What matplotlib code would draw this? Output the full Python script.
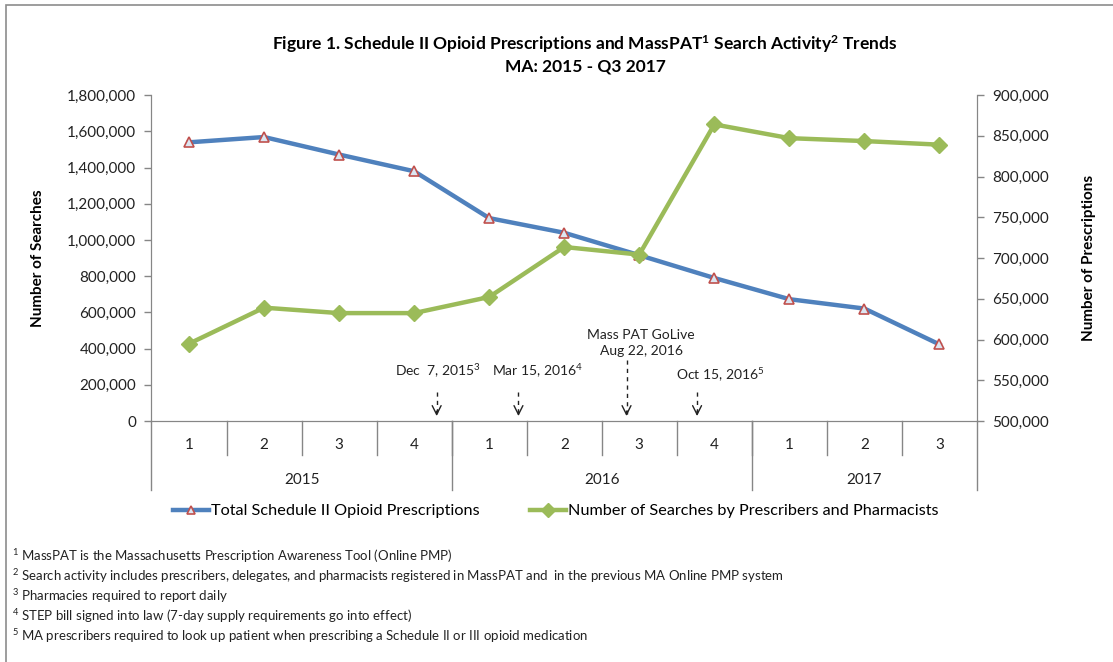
import numpy as np
import matplotlib.pyplot as plt
from matplotlib.patches import Rectangle

plt.rcParams['font.family'] = ['Lato', 'DejaVu Sans']
plt.rcParams['mathtext.fontset'] = 'custom'
plt.rcParams['mathtext.rm'] = 'Lato'
plt.rcParams['mathtext.it'] = 'Lato'
plt.rcParams['mathtext.bf'] = 'Lato:bold'

quarters = ['1', '2', '3', '4', '1', '2', '3', '4', '1', '2', '3']
years = ['2015', '2016', '2017']
year_sizes = [4, 4, 3]

# Total Schedule II opioid prescriptions (right axis)
prescriptions = [842000, 848500, 827000, 806500, 749000, 731000,
                 703500, 675500, 649500, 638000, 594000]
# Searches by prescribers and pharmacists (left axis)
searches = [427000, 626000, 596000, 596000, 685000, 961000,
            919000, 1638000, 1562000, 1546000, 1526000]

events = ['Dec  7, 2015$^{3}$', 'Mar 15, 2016$^{4}$',
          'Mass PAT GoLive\nAug 22, 2016', 'Oct 15, 2016$^{5}$']
event_pos = [3.30, 4.39, 5.83, 6.77]

footnotes = [
    '$^{1}$ MassPAT is the Massachusetts Prescription Awareness Tool (Online PMP)',
    '$^{2}$ Search activity includes prescribers, delegates, and pharmacists registered in MassPAT and  in the previous MA Online PMP system',
    '$^{3}$ Pharmacies required to report daily',
    '$^{4}$ STEP bill signed into law (7-day supply requirements go into effect)',
    '$^{5}$ MA prescribers required to look up patient when prescribing a Schedule II or III opioid medication',
]

blue = '#4F81BD'
green = '#9BBB59'
gray = '#868686'

fig = plt.figure(figsize=(11.13, 6.62), dpi=100)
ax = fig.add_axes([0.1361, 0.3640, 0.7417, 0.4924])
ax2 = ax.twinx()
ax.set_zorder(ax2.get_zorder() + 1)
ax.patch.set_visible(False)

x = np.arange(len(quarters))
l1, = ax2.plot(x, prescriptions, color=blue, lw=3.2, marker='^', ms=7,
               mfc='#DCE6F2', mec='#C0504D', mew=1.2, zorder=3)
l2, = ax.plot(x, searches, color=green, lw=3.2, marker='D', ms=8.5,
              mfc=green, mec=green, zorder=3)

ax.set_xlim(-0.5, len(quarters) - 0.5)
ax.set_ylim(0, 1800000)
ax2.set_ylim(500000, 900000)
ax.set_yticks(np.arange(0, 1800001, 200000))
ax2.set_yticks(np.arange(500000, 900001, 50000))
ax.yaxis.set_major_formatter(plt.FuncFormatter(lambda v, p: f'{int(v):,}'))
ax2.yaxis.set_major_formatter(plt.FuncFormatter(lambda v, p: f'{int(v):,}'))

for a in (ax, ax2):
    for s in a.spines.values():
        s.set_color(gray)
    a.spines['top'].set_visible(False)
    a.tick_params(axis='y', colors=gray, labelcolor='#222222', labelsize=11,
                  length=5, width=1, pad=6)
ax.set_xticks([])
ax2.set_xticks([])

ax.set_ylabel('Number of Searches', fontsize=11, fontweight='bold', labelpad=16)
ax2.set_ylabel('Number of Prescriptions', fontsize=11, fontweight='bold', labelpad=24)

# category axis: quarters and years
tr = ax.get_xaxis_transform()
for i, q in enumerate(quarters):
    ax.text(i, -0.074, q, transform=tr, ha='center', va='center', fontsize=11, color='#222222')
for b in np.arange(0.5, len(quarters) - 1, 1):
    ax.plot([b, b], [0, -0.104], transform=tr, color=gray, lw=1, clip_on=False)
edges = np.concatenate([[-0.5], np.cumsum(year_sizes) - 0.5])
for e in edges:
    ax.plot([e, e], [0, -0.212], transform=tr, color=gray, lw=1, clip_on=False)
for k, yr in enumerate(years):
    ax.text((edges[k] + edges[k + 1]) / 2, -0.181, yr, transform=tr,
            ha='center', va='center', fontsize=11, color='#222222')

# event markers
for lab, p in zip(events, event_pos):
    top = 335000 if '\n' in lab else 160000
    ax.plot([p, p], [top, 40000], color='#222222', lw=1, ls=(0, (3, 3)))
    ax.annotate('', xy=(p, 12000), xytext=(p, 70000),
                arrowprops=dict(arrowstyle='->', color='#222222', lw=1,
                                mutation_scale=16))
tx = [438, 537, 641, 720]
ty = [371, 371, 343, 375]
for lab, px, py in zip(events, tx, ty):
    fig.text(px / 1113, 1 - py / 662, lab, ha='center', va='center',
             fontsize=10, color='#222222', linespacing=1.4)

fig.text(585 / 1113, 1 - 44 / 662,
         r'Figure 1. Schedule II Opioid Prescriptions and MassPAT$^{\mathbf{1}}$ Search Activity$^{\mathbf{2}}$ Trends',
         ha='center', va='center', fontsize=12.5, fontweight='bold')
fig.text(585 / 1113, 1 - 67 / 662, 'MA: 2015 - Q3 2017',
         ha='center', va='center', fontsize=12.5, fontweight='bold')

fig.legend([l1, l2], ['Total Schedule II Opioid Prescriptions',
                      'Number of Searches by Prescribers and Pharmacists'],
           loc='center', bbox_to_anchor=(0.4996, 1 - 511 / 662), ncol=2,
           frameon=False, fontsize=11.7, handlelength=2.2, columnspacing=3.1,
           handletextpad=0.15, markerscale=0.8)

for k, t in enumerate(footnotes):
    fig.text(12 / 1113, 1 - (556 + k * 20) / 662, t, ha='left', va='center',
             fontsize=9.5, color='#222222')

fig.patches.append(Rectangle((6 / 1113, -0.1), 1.2, 1 - 5 / 662 + 0.1,
                             transform=fig.transFigure, fill=False,
                             ec='#8C8C8C', lw=1.2))

fig.savefig('out.png', dpi=100)
